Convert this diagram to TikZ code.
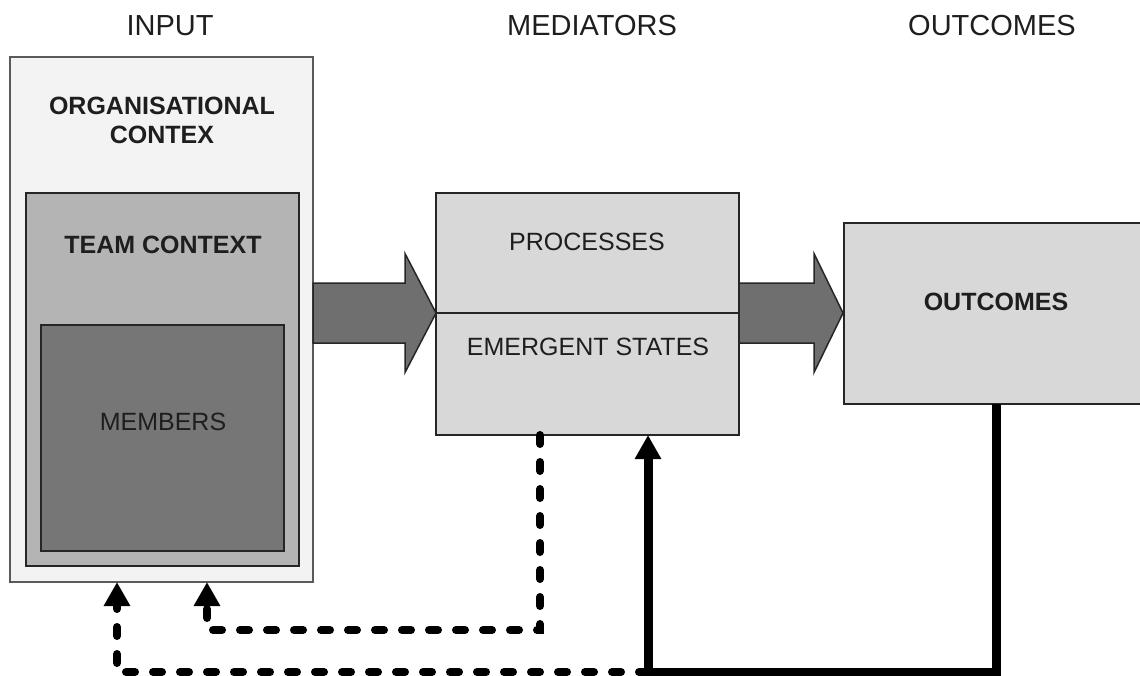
\documentclass[tikz,border=0pt]{standalone}
\usepackage{fontspec}
\setmainfont{Liberation Sans}
\usetikzlibrary{arrows.meta,calc}

\definecolor{txt}{HTML}{1E1E1E}
\definecolor{orgfill}{HTML}{F3F3F3}
\definecolor{orgline}{HTML}{5A5A5A}
\definecolor{teamfill}{HTML}{B4B4B4}
\definecolor{memfill}{HTML}{767676}
\definecolor{darkline}{HTML}{262626}
\definecolor{medfill}{HTML}{D8D8D8}
\definecolor{arrowfill}{HTML}{6F6F6F}

\begin{document}
\begin{tikzpicture}[x=1pt,y=-1pt,
  box/.style={draw, outer sep=0pt, inner sep=0pt, anchor=north west},
  heading/.style={text=txt, inner sep=0pt, font=\fontsize{29}{34}\selectfont},
  label/.style={text=txt, inner sep=0pt, align=center, font=\fontsize{25}{29}\selectfont},
  boldlabel/.style={label, font=\fontsize{25}{29}\selectfont\bfseries},
  bigarrow/.style={fill=arrowfill, draw=darkline, line width=1.5pt, line join=miter},
  tip/.style={-{Triangle[length=24pt,width=25pt]}},
  fbsolid/.style={draw=black, line width=9pt, line join=miter, tip},
  fbdash/.style={draw=black, line width=8pt, line cap=round, dash pattern=on 9pt off 18pt, tip}]

\useasboundingbox (0,0) rectangle (1140,675);
\clip (0,0) rectangle (1140,675);

% column headings
\node[heading] (hinput) at (170,26) {INPUT};
\node[heading] (hmed)   at (592,26) {MEDIATORS};
\node[heading] (hout)   at (992,26) {OUTCOMES};

% input: nested contexts
\node[box, fill=orgfill, draw=orgline, line width=2pt,
      minimum width=303pt, minimum height=525pt] (org) at (10,57) {};
\node[box, fill=teamfill, draw=darkline, line width=2.5pt,
      minimum width=273pt, minimum height=373pt] (team) at (26,193) {};
\node[box, fill=memfill, draw=darkline, line width=2.5pt,
      minimum width=243pt, minimum height=226pt] (mem) at (41,325) {};
\node[boldlabel] (orgtext)  at (162,120) {ORGANISATIONAL\\CONTEX};
\node[boldlabel] (teamtext) at (163,245) {TEAM CONTEXT};
\node[label]     (memtext)  at (163,422) {MEMBERS};

% mediators
\node[box, fill=medfill, draw=darkline, line width=1.8pt,
      minimum width=303pt, minimum height=120pt] (proc) at (436,193) {};
\node[box, fill=medfill, draw=darkline, line width=1.8pt,
      minimum width=303pt, minimum height=122pt] (emerg) at (436,313) {};
\node[label] (proctext)  at (587,242) {PROCESSES};
\node[label] (emergtext) at (588,347) {EMERGENT STATES};

% outcomes
\node[box, fill=medfill, draw=darkline, line width=1.8pt,
      minimum width=304pt, minimum height=181pt] (outc) at (844,223) {};
\node[boldlabel] (outctext) at (996,302) {OUTCOMES};

% block arrows between the stages
\path[bigarrow] let \p1=(org.east |- proc.south), \p2=(proc.south west) in
  (\x1,\y1+30pt) -- (\x2-31pt,\y1+30pt) -- (\x2-31pt,\y1+59.5pt) -- (\p2)
  -- (\x2-31pt,\y1-59.5pt) -- (\x2-31pt,\y1-30pt) -- (\x1,\y1-30pt) -- cycle;
\path[bigarrow] let \p1=(proc.south east), \p2=(outc.west |- proc.south) in
  (\x1,\y1+30pt) -- (\x2-30pt,\y1+30pt) -- (\x2-30pt,\y1+59.5pt) -- (\x2-1pt,\y2)
  -- (\x2-30pt,\y1-59.5pt) -- (\x2-30pt,\y1-30pt) -- (\x1,\y1-30pt) -- cycle;

% feedback loops
\coordinate (fbjoin) at (648,672);
\coordinate (medjoin) at (540,630);
\draw[fbdash] ([xshift=-47.5pt]emerg.south) -- (medjoin) -| ([xshift=45.5pt]org.south);
\draw[fbdash] (fbjoin) -| ([xshift=-44.5pt]org.south);
\draw[fbsolid] (outc.south) |- (fbjoin) -- ([xshift=60.5pt]emerg.south);

\end{tikzpicture}
\end{document}
